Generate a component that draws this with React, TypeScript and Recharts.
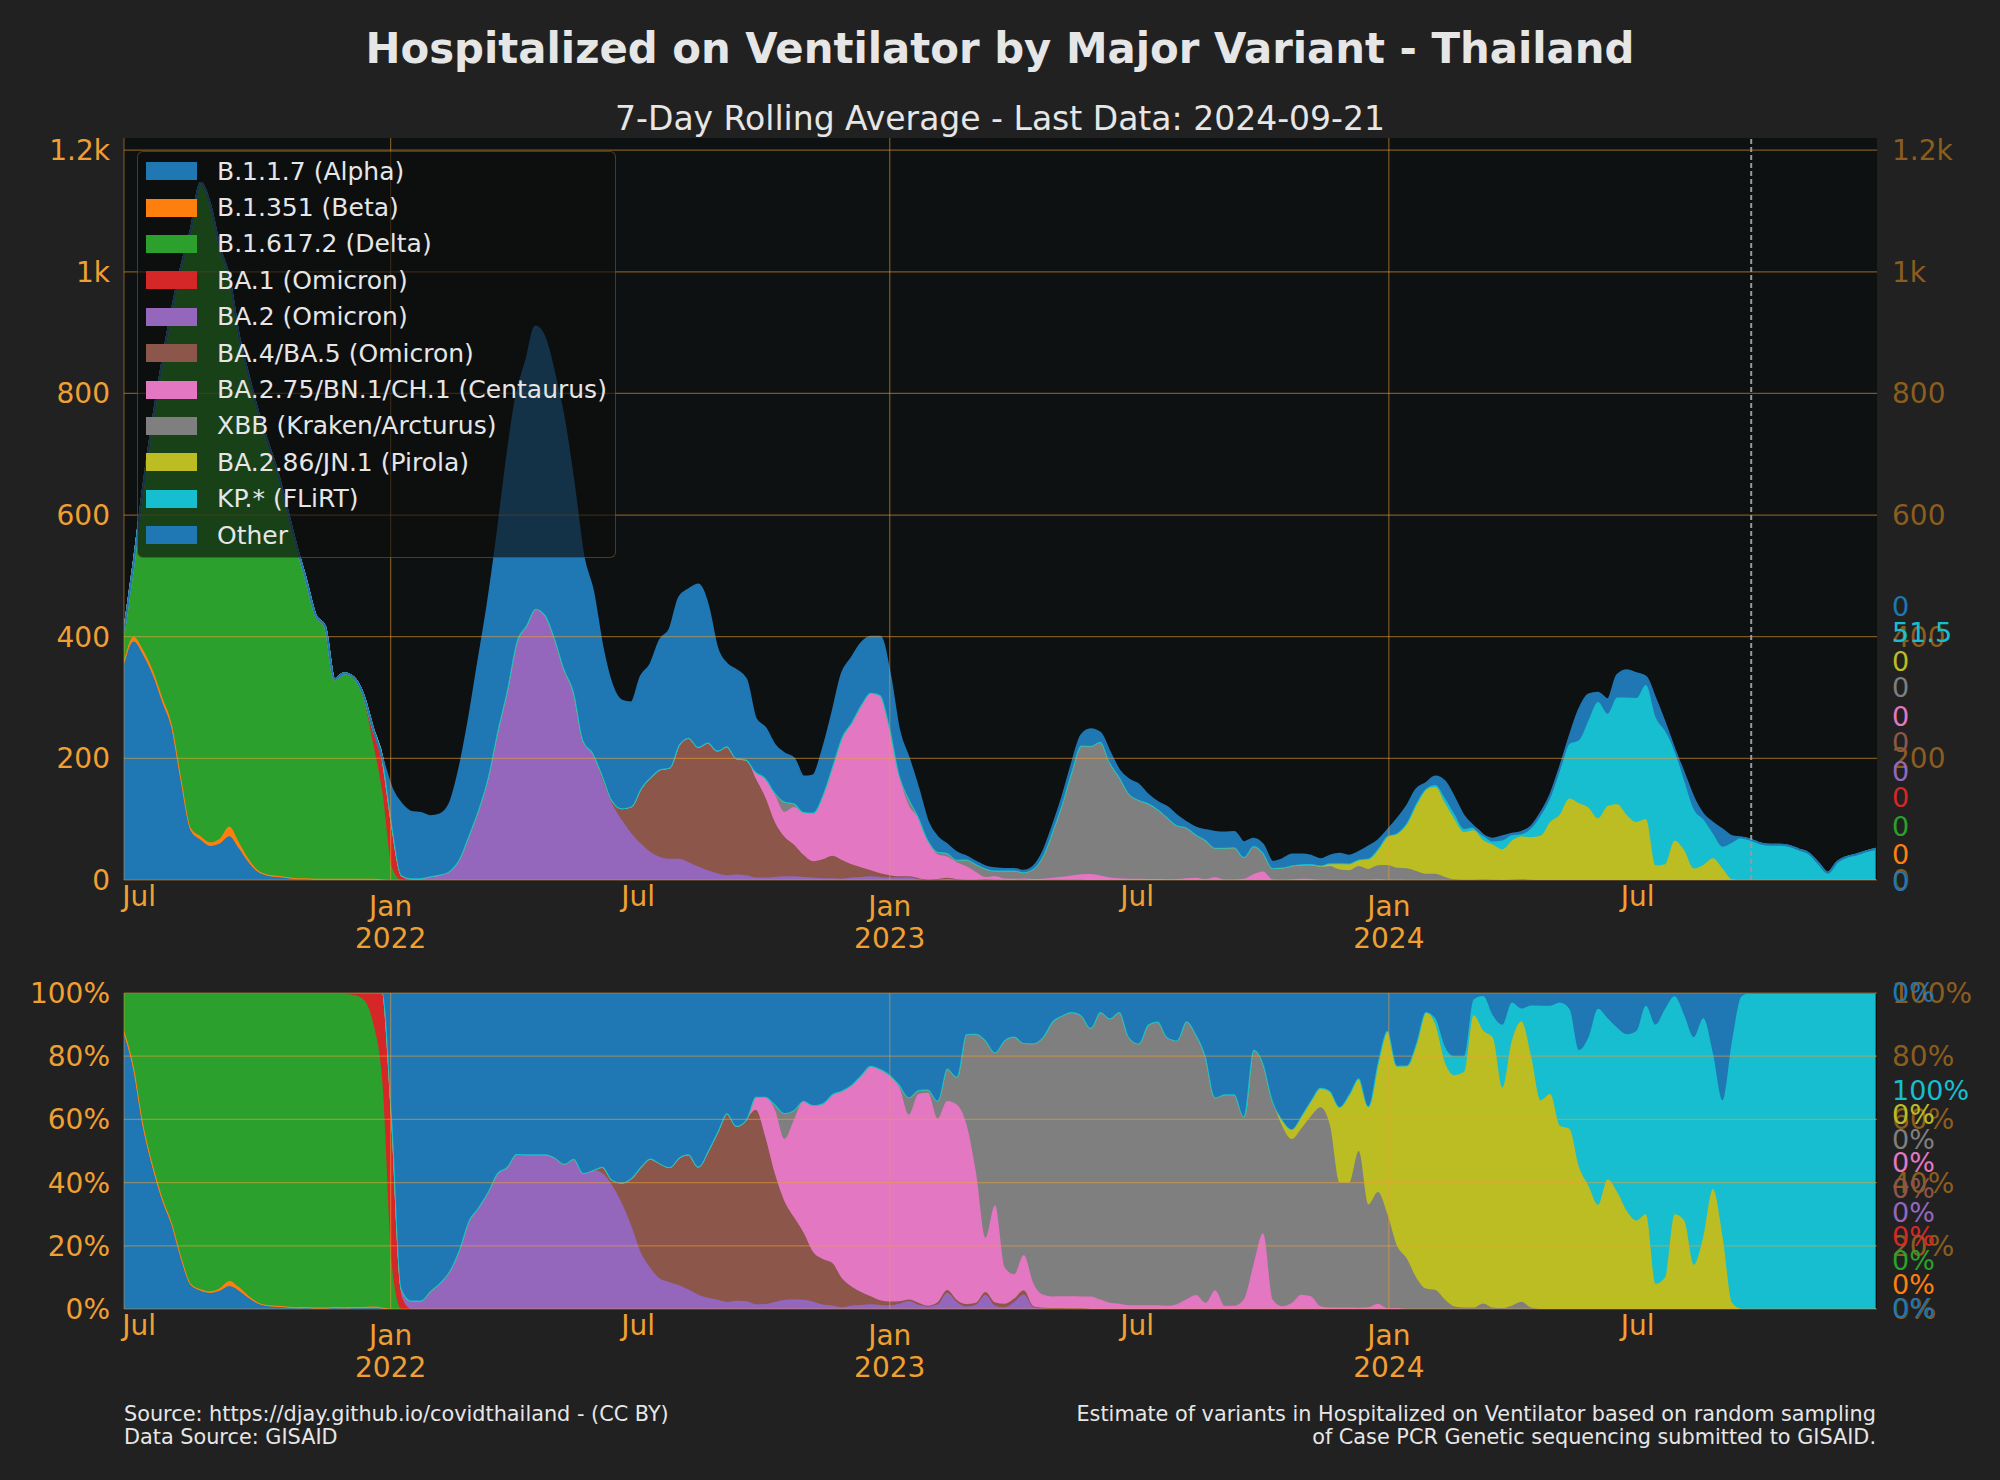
import React from "react";
import { AreaChart, Area, XAxis, YAxis, ReferenceLine } from "recharts";

// weekly points, first week = 2021-06-20
const DAY = 86400000;
const firstWeek = Date.UTC(2021, 5, 20);
const weekCount = 184;

// estimated hospitalized-on-ventilator counts per variant (7-day avg), each list starts at week `start`
const alpha = [355, 392, 370, 337, 292, 248, 160, 80, 66, 56, 60, 72, 52, 29, 13, 7, 5, 4, 2, 2, 1, 1, 1, 1, 1, 1, 1, 1];
const beta = [5, 8, 8, 8, 8, 7, 5, 5, 6, 6, 8, 16, 10, 6, 3, 2, 2, 1, 1, 1, 1, 1, 1, 1, 1, 1, 1, 0];
const delta = [48, 120, 267, 410, 552, 682, 845, 985, 1074, 1048, 972, 902, 833, 795, 754, 711, 666, 607, 547, 492, 434, 415, 328, 337, 329, 297, 225, 142, 20];
const ba1 = [1, 2, 6, 23, 57, 70, 5];
const ba2 = [1, 3, 3, 3, 6, 9, 15, 34, 73, 115, 168, 244, 311, 391, 418, 446, 436, 398, 347, 309, 229, 209, 164, 125, 99, 77, 60, 46, 38, 35, 35, 29, 22, 16, 11, 8, 9, 8, 4, 4, 5, 6, 6, 5, 4, 3, 3, 2, 4, 5, 6, 5, 4, 4, 5, 2, 1, 1, 3, 1, 0.3, 0.4, 1, 0.2, 0.1, 0.4, 0.7, 0.2, 0.2, 0.3, 0.4, 0.4, 0.5];
const ba45 = [8, 6, 19, 44, 91, 123, 144, 150, 188, 205, 197, 210, 202, 212, 191, 190, 163, 132, 90, 65, 52, 36, 27, 31, 37, 31, 22, 16, 10, 6, 4, 2, 1, 1, 0, 0.5, 0.5, 0.3, 0.3, 0.2, 0.2, 0.2, 0.2, 0.2, 0.2];
const ba275 = [11, 32, 45, 41, 62, 71, 80, 106, 147, 202, 233, 267, 292, 293, 244, 166, 117, 99, 64, 41, 35, 28, 22, 12.5, 3.8, 5.9, 2.1, 1.4, 1.7, 1.6, 1.9, 3.2, 5, 7.2, 9, 9.9, 7.3, 4.2, 3, 2, 1.9, 1.7, 1.5, 1.2, 1.6, 2.9, 3.8, 1.6, 4.7, 0.8, 0.8, 1.9, 9.5, 13.9, 0.9, 0.3, 0.8, 1.9, 1.6, 0.3, 0.2, 0.2, 0.2, 0.2, 0.3, 1.1, 0.2, 0.3];
const xbb = [4, 17, 6, 0, 0, 0, 0, 0, 0, 0, 0, 0, 0, 2, 11, 2, 1, 4, 6, 4, 11, 13.2, 13.9, 9.3, 13.1, 13.7, 10.2, 16.7, 37.5, 76.6, 120, 171, 211.8, 210.8, 220.2, 189, 166.2, 139.9, 130, 124.3, 115, 102, 88.5, 83.6, 71, 64, 48.2, 52.3, 52.9, 35.9, 46.3, 31.3, 18.9, 19.4, 21.8, 22.1, 22.8, 21.4, 23, 17, 15.8, 22.8, 17.9, 23, 24.4, 19.7, 19.4, 14.9, 10.3, 10.2, 4.9, 1.1, 0.5, 0.4, 1.3, 0.3, 0.2, 0.8, 1.8, 0.4];
const ba286 = [0.7, 1.3, 1.7, 2, 2.1, 4.4, 10.3, 11.2, 10.6, 17.1, 26.7, 47.6, 57, 73.8, 110.3, 139.2, 142.8, 121.5, 98.8, 78.3, 81.4, 63.9, 58.1, 50.2, 63.8, 70.1, 70, 72.6, 95.2, 107.3, 134, 126, 119, 101.6, 121.8, 124.7, 107, 95.2, 100.2, 23.8, 25.8, 64.5, 49, 18.9, 24.8, 35.7, 19.1, 1.4];
const kp = [3.4, 8.1, 8.1, 5.2, 4.4, 8.1, 4.8, 14.4, 9.1, 3.2, 14.1, 33, 39.2, 72.2, 89.3, 103.6, 143.3, 191, 151.4, 175.2, 193.1, 204, 220.4, 244.4, 219.3, 148.3, 113.8, 97.2, 74.6, 40.4, 35.7, 59.8, 69.3, 66, 60, 58, 58, 56, 50, 44, 28, 12, 30, 38, 42, 47, 51.5];
const other = [59, 117, 109, 107, 99, 99, 110, 147, 189, 243, 286, 323, 381, 406, 435, 464, 454, 432, 408, 341, 303, 266, 210, 189, 177, 171, 184, 186, 213, 227, 242, 244, 267, 226, 167, 135, 145, 132, 87, 82, 78, 79, 74, 58, 61, 75, 88, 105, 106, 101, 92, 96, 88, 71, 66, 46, 29, 24, 14, 12, 5, 3.9, 3.3, 3.6, 2.7, 2.5, 2.4, 3.5, 6.4, 7.9, 9.6, 11.4, 16.7, 27.3, 14.5, 16.8, 10.8, 23.1, 25.1, 14, 11.5, 16.8, 15.9, 8.5, 11.2, 16.4, 26.1, 25, 25.3, 24.2, 12.2, 12.8, 10.2, 13.6, 18.1, 16.3, 13.6, 10.2, 12.4, 15.5, 12.8, 12.4, 19.7, 14.3, 9.8, 23, 27.8, 23.8, 9.5, 13.6, 27.5, 27, 21, 1.8, 0.7, 4.8, 7.2, 2.3, 3.9, 3.5, 4.4, 5.6, 5.5, 11.7, 50.4, 42.7, 15.4, 23.8, 37.1, 44.9, 40.8, 13.4, 29.8, 12.9, 2.2, 12.2, 18.9, 8.6, 17.9, 28.2, 10.8, 0.7];

const series = [
  { key: "alpha", name: "B.1.1.7 (Alpha)", color: "#1f77b4", start: 0, values: alpha },
  { key: "beta", name: "B.1.351 (Beta)", color: "#ff7f0e", start: 0, values: beta },
  { key: "delta", name: "B.1.617.2 (Delta)", color: "#2ca02c", start: 0, values: delta },
  { key: "ba1", name: "BA.1 (Omicron)", color: "#d62728", start: 23, values: ba1 },
  { key: "ba2", name: "BA.2 (Omicron)", color: "#9467bd", start: 28, values: ba2 },
  { key: "ba45", name: "BA.4/BA.5 (Omicron)", color: "#8c564b", start: 50, values: ba45 },
  { key: "ba275", name: "BA.2.75/BN.1/CH.1 (Centaurus)", color: "#e377c2", start: 66, values: ba275 },
  { key: "xbb", name: "XBB (Kraken/Arcturus)", color: "#7f7f7f", start: 68, values: xbb },
  { key: "ba286", name: "BA.2.86/JN.1 (Pirola)", color: "#bcbd22", start: 121, values: ba286 },
  { key: "kp", name: "KP.* (FLiRT)", color: "#17becf", start: 137, values: kp },
  { key: "other", name: "Other", color: "#1f77b4", start: 28, values: other },
];

const xTicks = [
  Date.UTC(2021, 6, 1), Date.UTC(2022, 0, 1), Date.UTC(2022, 6, 1), Date.UTC(2023, 0, 1),
  Date.UTC(2023, 6, 1), Date.UTC(2024, 0, 1), Date.UTC(2024, 6, 1),
];
const janLines = [Date.UTC(2022, 0, 1), Date.UTC(2023, 0, 1), Date.UTC(2024, 0, 1)];
const lastDataDate = Date.UTC(2024, 8, 22);
const xDomain = [firstWeek, Date.UTC(2024, 11, 23)];
const countTicks = [0, 200, 400, 600, 800, 1000, 1200];
const pctTicks = [0, 0.2, 0.4, 0.6, 0.8, 1];

const FONT = '"DejaVu Sans", sans-serif';
const ORANGE = "#f0a032";
const DIM = "#8b5d1f";
const PAGE_BG = "#212121";
const PLOT_BG = "#0d1111";
const TEXT = "#e6e6e6";

const pick = (vals: number[], start: number, i: number) =>
  i >= start && i < start + vals.length ? vals[i - start] : 0;

const rows = Array.from({ length: weekCount }, (_, i) => {
  const row: Record<string, number> = { t: firstWeek + i * 7 * DAY };
  series.forEach((s) => (row[s.key] = pick(s.values, s.start, i)));
  return row;
});

const lastRow = rows[rows.length - 1];
const lastTotal = series.reduce((a, s) => a + lastRow[s.key], 0);

// y centres of the end-value labels, top to bottom (Other ... Alpha)
const topLabelY = [607, 633, 662, 688, 717, 743, 772, 798, 827, 855, 882];
const bottomLabelY = [993, 1091, 1115, 1140, 1163, 1189, 1213, 1237, 1261, 1285, 1309];

const fmtCount = (v: number) => (v >= 1000 ? `${v / 1000}k` : `${v}`);
const fmtPct = (v: number) => `${Math.round(v * 100)}%`;

function DateTick(props: any) {
  const { x, y, payload } = props;
  const d = new Date(payload.value);
  const jan = d.getUTCMonth() === 0;
  return (
    <g>
      <text x={x} y={y + (jan ? 36 : 26)} textAnchor="middle" fill={ORANGE} fontSize={28} fontFamily={FONT}>
        {jan ? "Jan" : "Jul"}
      </text>
      {jan && (
        <text x={x} y={y + 68} textAnchor="middle" fill={ORANGE} fontSize={28} fontFamily={FONT}>
          {d.getUTCFullYear()}
        </text>
      )}
    </g>
  );
}

function Panel({ top, height, marginTop, expand }: { top: number; height: number; marginTop: number; expand: boolean }) {
  const domain = expand ? [0, 1] : [0, 1220];
  const ticks = expand ? pctTicks : countTicks;
  const fmt = expand ? fmtPct : fmtCount;
  return (
    <div style={{ position: "absolute", left: 0, top }}>
      <AreaChart
        width={2000}
        height={height}
        data={rows}
        margin={{ top: marginTop, right: 0, bottom: 0, left: 0 }}
        stackOffset={expand ? "expand" : "none"}
      >
        <XAxis
          dataKey="t"
          type="number"
          domain={xDomain}
          ticks={xTicks}
          interval={0}
          tick={<DateTick />}
          tickLine={false}
          tickSize={0}
          tickMargin={0}
          axisLine={false}
          height={80}
          allowDataOverflow
        />
        <YAxis
          yAxisId="l"
          orientation="left"
          width={124}
          domain={domain}
          ticks={ticks}
          interval={0}
          tickFormatter={fmt}
          tick={{ fill: ORANGE, fontSize: 28, fontFamily: FONT }}
          tickLine={false}
          tickSize={0}
          tickMargin={14}
          axisLine={{ stroke: ORANGE, strokeOpacity: 0.5 }}
          allowDataOverflow
        />
        <YAxis
          yAxisId="r"
          orientation="right"
          width={123}
          domain={domain}
          ticks={ticks}
          interval={0}
          tickFormatter={fmt}
          tick={{ fill: DIM, fontSize: 28, fontFamily: FONT }}
          tickLine={false}
          tickSize={0}
          tickMargin={15}
          axisLine={false}
          allowDataOverflow
        />
        {series.map((s) => (
          <Area
            key={s.key}
            yAxisId="l"
            type="monotone"
            dataKey={s.key}
            name={s.name}
            stackId="v"
            stroke={s.color}
            strokeWidth={2}
            fill={s.color}
            fillOpacity={1}
            dot={false}
            activeDot={false}
            isAnimationActive={false}
          />
        ))}
        {ticks.map((v) => (
          <ReferenceLine key={`h${v}`} yAxisId="l" y={v} stroke={ORANGE} strokeOpacity={0.5} strokeWidth={1.2} />
        ))}
        {janLines.map((t) => (
          <ReferenceLine key={`v${t}`} yAxisId="l" x={t} stroke={ORANGE} strokeOpacity={0.5} strokeWidth={1.2} />
        ))}
        {!expand && (
          <ReferenceLine yAxisId="l" x={lastDataDate} stroke="#9a9a9a" strokeWidth={2} strokeDasharray="5 3" />
        )}
      </AreaChart>
    </div>
  );
}

function Legend() {
  return (
    <div
      style={{
        position: "absolute",
        left: 137,
        top: 151,
        width: 479,
        height: 407,
        boxSizing: "border-box",
        background: "rgba(14,14,14,0.65)",
        border: "1px solid rgba(240,160,50,0.3)",
        borderRadius: 6,
      }}
    >
      {series.map((s, k) => (
        <div
          key={s.key}
          style={{
            position: "absolute",
            left: 8,
            top: 1 + k * 36.4,
            height: 36.4,
            display: "flex",
            alignItems: "center",
            whiteSpace: "nowrap",
          }}
        >
          <div style={{ width: 51, height: 18, background: s.color }} />
          <span style={{ marginLeft: 20, fontSize: 25, color: TEXT }}>{s.name}</span>
        </div>
      ))}
    </div>
  );
}

function EndLabels({ ys, pct }: { ys: number[]; pct: boolean }) {
  const ordered = [...series].reverse();
  return (
    <>
      {ordered.map((s, k) => {
        const v = lastRow[s.key];
        const text = pct ? `${Math.round((v / lastTotal) * 100)}%` : Number.isInteger(v) ? `${v}` : v.toFixed(1);
        return (
          <div
            key={s.key}
            style={{
              position: "absolute",
              left: 1892,
              top: ys[k] - 16,
              height: 32,
              lineHeight: "32px",
              fontSize: 27,
              color: s.color,
              whiteSpace: "nowrap",
            }}
          >
            {text}
          </div>
        );
      })}
    </>
  );
}

export default function App() {
  return (
    <div
      style={{
        position: "absolute",
        left: 0,
        top: 0,
        width: 2000,
        height: 1480,
        overflow: "hidden",
        background: PAGE_BG,
        fontFamily: FONT,
      }}
    >
      <div style={{ position: "absolute", left: 124, top: 138, width: 1753, height: 742, background: PLOT_BG }} />
      <div style={{ position: "absolute", left: 124, top: 993, width: 1753, height: 316, background: PLOT_BG }} />

      <div
        style={{
          position: "absolute",
          left: 0,
          top: 24,
          width: 2000,
          height: 50,
          lineHeight: "50px",
          textAlign: "center",
          fontSize: 41.8,
          fontWeight: "bold",
          color: TEXT,
        }}
      >
        Hospitalized on Ventilator by Major Variant - Thailand
      </div>
      <div
        style={{
          position: "absolute",
          left: 0,
          top: 99,
          width: 2000,
          height: 40,
          lineHeight: "40px",
          textAlign: "center",
          fontSize: 33,
          color: TEXT,
        }}
      >
        7-Day Rolling Average - Last Data: 2024-09-21
      </div>

      <Panel top={0} height={960} marginTop={138} expand={false} />
      <Panel top={960} height={429} marginTop={33} expand={true} />

      <Legend />
      <EndLabels ys={topLabelY} pct={false} />
      <EndLabels ys={bottomLabelY} pct={true} />

      <div style={{ position: "absolute", left: 124, top: 1403, fontSize: 20.8, lineHeight: "22.5px", color: TEXT }}>
        Source: https://djay.github.io/covidthailand - (CC BY)
        <br />
        Data Source: GISAID
      </div>
      <div
        style={{
          position: "absolute",
          right: 124,
          top: 1403,
          fontSize: 20.8,
          lineHeight: "22.5px",
          color: TEXT,
          textAlign: "right",
          whiteSpace: "nowrap",
        }}
      >
        Estimate of variants in Hospitalized on Ventilator based on random sampling
        <br />
        of Case PCR Genetic sequencing submitted to GISAID.
      </div>
    </div>
  );
}
